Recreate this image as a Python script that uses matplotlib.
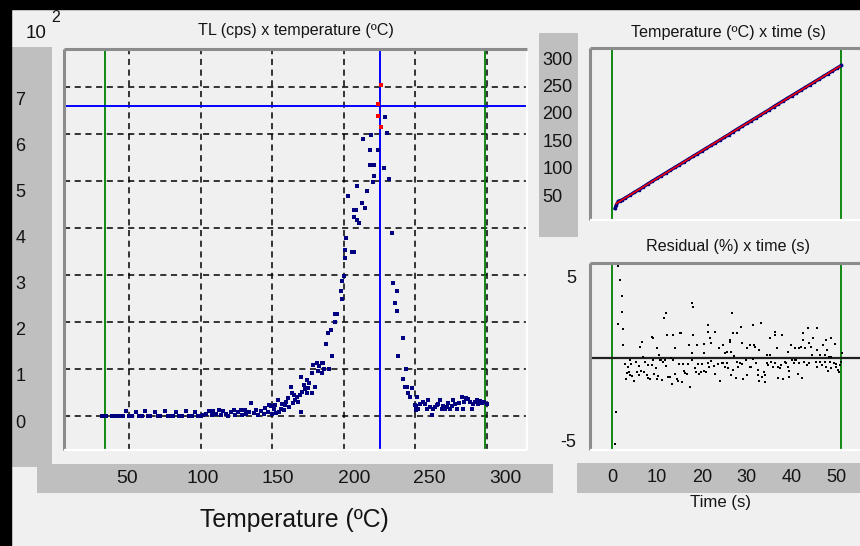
import numpy as np
import matplotlib
matplotlib.use("Agg")
import matplotlib.pyplot as plt
from matplotlib import font_manager as fm
from matplotlib.patches import Rectangle

# ---------------- data ----------------
# TL glow curve (temperature in C, intensity in units of 10^2 cps)
tl_temp = [31, 34, 38, 41, 44, 46, 48, 50, 52, 55, 57, 59, 61, 63, 65, 68, 70, 72, 75, 77,
           79, 81, 83, 85, 87, 90, 92, 94, 96, 98, 100, 102, 104, 106, 108, 109, 111, 113, 114, 116,
           118, 119, 121, 123, 124, 126, 128, 129, 131, 132, 134, 135, 137, 139, 140, 142, 144, 145, 147, 148,
           149, 150, 151, 152, 153, 154, 155, 156, 157, 158, 159, 160, 161, 162, 163, 163.6, 164.5, 165, 166, 167,
           168, 169.4, 169.9, 170, 171, 172, 173, 174.1, 174.5, 175.2, 176, 177.6, 178, 178.3, 179.8, 181, 182, 183, 184.6, 184.6,
           185.5, 186, 187.6, 188.8, 189.9, 190.9, 191.5, 193.9, 193.9, 195, 198, 198.5, 198.5, 200.1, 200.8, 200.8, 201.5, 202.7, 205.5, 207.1,
           207.1, 207.1, 208.5, 209.2, 209.4, 210.4, 212.5, 213.6, 214.8, 216, 218.1, 218.1, 219, 220.2, 221.3, 221.3, 223.7, 227.9, 229, 230,
           231.6, 233.5, 234.6, 235.8, 237, 237, 238, 241.1, 241.1, 242.7, 243.4, 243.9, 245, 246.2, 247.4, 249.7, 250.4, 250.4, 251.3, 252,
           253, 255.5, 256.7, 257.9, 259, 260, 261.4, 262.1, 263.7, 264.9, 266, 267.2, 268.4, 269.5, 270.7, 272, 273, 274.2, 275.3, 276.5,
           278, 279.3, 280.7, 282.3, 283.4, 284.3, 285.3, 286.9, 288, 289.3, 290.4, 291.5, 292.8, 293.9, 295, 296.3, 298, 299.8]
tl_counts = [0.00, 0.00, 0.00, 0.00, 0.00, 0.01, 0.10, 0.00, 0.01, 0.09, 0.00, 0.01, 0.10, 0.00, 0.01, 0.09, 0.00, 0.01, 0.10, 0.00,
             0.01, 0.00, 0.09, 0.00, 0.01, 0.10, 0.00, 0.00, 0.08, 0.00, 0.00, 0.02, 0.05, 0.11, 0.03, 0.10, 0.04, 0.12, 0.02, 0.10,
             0.04, 0.01, 0.09, 0.13, 0.03, 0.08, 0.12, 0.02, 0.13, 0.05, 0.09, 0.27, 0.06, 0.13, 0.03, 0.10, 0.05, 0.17, 0.08, 0.23,
             0.21, 0.04, 0.15, 0.23, 0.07, 0.34, 0.09, 0.16, 0.26, 0.13, 0.23, 0.30, 0.38, 0.20, 0.62, 0.49, 0.28, 0.44, 0.35, 0.41,
             0.29, 0.45, 0.84, 0.09, 0.52, 0.66, 0.58, 0.77, 0.48, 0.60, 0.70, 0.91, 0.49, 1.09, 0.62, 1.12, 0.95, 1.07, 0.92, 1.12,
             1.12, 1.00, 1.53, 1.77, 0.99, 1.84, 1.28, 2.00, 2.17, 2.17, 2.67, 2.48, 2.88, 2.98, 3.36, 3.53, 3.78, 4.68, 3.50, 3.50,
             4.38, 4.24, 4.38, 4.89, 4.17, 4.10, 4.54, 5.89, 4.43, 4.79, 5.67, 5.35, 5.99, 4.99, 5.35, 5.11, 5.67, 5.28, 6.36, 6.03,
             5.04, 3.89, 2.84, 2.40, 2.67, 2.23, 1.28, 1.67, 0.78, 0.62, 0.99, 0.62, 0.50, 0.41, 0.60, 0.23, 0.13, 0.21, 0.41, 0.14,
             0.25, 0.30, 0.26, 0.16, 0.34, 0.20, 0.02, 0.16, 0.20, 0.23, 0.25, 0.34, 0.14, 0.22, 0.16, 0.20, 0.27, 0.14, 0.22, 0.34,
             0.25, 0.16, 0.27, 0.41, 0.14, 0.30, 0.38, 0.36, 0.30, 0.16, 0.26, 0.30, 0.34, 0.26, 0.32, 0.28, 0.30, 0.26]
# flagged points near the peak (red)
peak_temp = [226.0, 224.1, 223.7, 226.0]
peak_counts = [7.04, 6.64, 6.39, 6.14]

# cursors / region limits
cursor_temp = 225.0
cursor_counts = 6.6
roi_temp = [33.0, 298.6]

# temperature vs time
temp_time = [0.7, 1.0, 1.4, 1.8, 2.2, 3, 4, 5, 6, 7, 8, 9, 10, 11, 12, 13, 14, 15, 16, 17, 18, 19, 20,
             21, 22, 23, 24, 25, 26, 27, 28, 29, 30, 31, 32, 33, 34, 35, 36, 37, 38, 39, 40, 41, 42, 43,
             44, 45, 46, 47, 48, 49, 50, 51]
temp_vals = [29, 36, 42, 43.5, 44.5, 48.5, 53.5, 58.5, 63.5, 68.5, 74, 79, 84, 89, 94, 99, 104, 109, 114,
             119, 124, 129, 134, 139, 144, 149, 154, 159, 164, 169.5, 174.5, 179.5, 184.5, 189.5, 194.5,
             199.5, 204.5, 209.5, 215, 220, 225, 230, 235, 240, 245, 250, 255, 260, 265, 270, 275, 280,
             285, 290]
roi_time = [0.0, 50.9]

# residuals (%) vs time
res_time = [0.7, 1.0, 1.4, 1.4, 1.8, 2.2, 2.2, 2.5, 2.5, 2.9, 3.1, 3.3, 3.6, 3.8, 3.9, 4.0, 4.2, 4.5, 4.9, 5.3,
            5.5, 5.9, 6.0, 6.2, 6.4, 6.6, 6.9, 7.2, 7.3, 7.7, 7.9, 8.1, 8.4, 8.8, 8.8, 9.2, 9.2, 9.4, 9.7, 9.9,
            10.1, 10.3, 10.5, 10.7, 11.0, 11.2, 11.4, 11.6, 11.8, 11.9, 12.1, 12.2, 12.5, 12.9, 13.1, 13.3, 13.6, 13.6, 14.0, 14.0,
            14.4, 14.6, 14.9, 15.1, 15.4, 15.6, 15.8, 16.1, 16.2, 16.6, 16.8, 17.1, 17.4, 17.7, 17.7, 17.9, 18.1, 18.1, 18.4, 18.6,
            18.8, 19.2, 19.4, 19.9, 20.1, 20.5, 20.5, 20.5, 20.9, 21.3, 21.3, 21.3, 21.6, 21.9, 22.0, 22.1, 22.7, 22.9, 23.0, 23.5,
            23.8, 24.0, 24.4, 24.7, 24.7, 25.1, 25.1, 25.5, 25.5, 25.9, 26.2, 26.2, 26.4, 26.4, 26.7, 26.9, 26.9, 27.2, 27.6, 27.7,
            27.7, 28.0, 28.4, 28.7, 29.0, 29.0, 29.2, 29.7, 30.1, 30.1, 30.7, 30.7, 31.0, 31.4, 31.4, 31.6, 31.9, 32.1, 32.4, 32.5,
            32.7, 32.7, 33.1, 33.3, 33.8, 34.1, 34.1, 34.5, 34.5, 34.7, 35.1, 35.1, 35.4, 35.8, 36.2, 36.2, 36.2, 36.6, 36.9, 36.9,
            37.3, 37.6, 37.7, 38.0, 38.4, 38.8, 39.2, 39.2, 39.3, 39.4, 39.8, 40.0, 40.4, 40.7, 40.7, 41.0, 41.3, 41.6, 41.6, 42.0,
            42.3, 42.5, 42.5, 42.7, 42.9, 43.3, 43.5, 43.8, 43.8, 44.2, 44.4, 44.6, 45.3, 45.5, 45.7, 45.7, 46.2, 46.2, 46.6, 46.9,
            47.3, 47.3, 47.7, 47.7, 47.8, 48.1, 48.2, 48.4, 48.7, 48.8, 48.8, 49.4, 49.6, 49.8, 49.9, 50.3, 50.4, 50.7, 50.9, 51.2]
res_vals = [-5.2, -3.3, 5.65, 2.1, 4.8, 3.8, 2.8, 1.8, 0.8, -0.37, -1.26, -0.91, -0.51, -0.85, -0.10, -1.02, -0.37, -1.06, -1.36, -0.24,
            -0.85, -0.45, -1.02, 0.67, -0.77, 0.98, 0.10, -0.85, -0.24, -1.02, -0.41, -1.22, -1.26, 1.32, -0.41, 1.22, -0.10, -0.98, -0.61, -1.26,
            0.61, -1.06, 0.20, -0.10, -0.10, -1.32, -0.24, 2.44, -0.10, 2.74, -0.45, 1.42, -1.16, -1.16, 0.04, -1.57, 1.42, -0.10, 0.61, -0.98,
            -1.26, -1.36, -0.37, 1.52, 1.52, -1.46, -0.37, -0.77, -0.91, -0.98, -0.37, 0.81, -1.77, 3.35, 0.30, -0.10, 3.15, 1.42, -0.57, -0.85,
            0.81, -0.37, -0.98, -0.85, -0.37, 0.30, 0.85, -0.77, -0.85, 2.03, 1.63, -0.30, -0.50, 1.22, 0.91, -0.16, -0.47, -0.98, 1.63, -0.37,
            0.61, -1.36, -0.30, 0.81, -0.30, -0.51, 0.30, 0.40, -0.30, -0.61, 1.00, 1.10, 0.40, -1.02, 2.74, 1.52, -0.71, 0.16, -1.18, 1.52,
            -0.20, -0.51, -0.30, 1.93, 0.91, -0.37, -1.26, -0.10, 0.61, -1.02, 0.81, -0.51, -0.51, 2.03, -0.04, 0.81, 0.71, -0.30, -0.71, -1.02,
            0.51, -1.36, 2.13, -1.12, -0.85, -1.02, -1.46, 0.20, -0.30, -0.41, 1.22, 0.20, -0.24, -0.51, 1.63, 1.42, -0.30, 0.61, -0.51, -1.18,
            -0.61, -0.41, 1.42, -1.26, -0.20, -0.30, 0.40, -0.51, -0.77, -1.12, 0.81, -0.10, -0.30, 0.61, -0.10, -0.10, -0.98, 0.65, -0.30, 0.71,
            -1.18, 1.12, 1.52, -0.24, 0.61, -0.41, 1.83, 0.91, -0.30, 0.71, 0.20, 1.22, -0.24, 0.51, 1.83, -0.51, 0.20, -0.20, -0.41, 0.81,
            0.20, -0.20, 1.12, -0.51, 0.51, -0.77, 0.10, -0.24, 0.10, 1.22, -0.61, -0.30, 0.85, -0.37, -0.51, -0.71, -0.85, -0.41, -0.20, 0.30]

main_xticks = [50, 100, 150, 200, 250, 300]
main_yticks = [0, 1, 2, 3, 4, 5, 6, 7]
temp_ticks = [50, 100, 150, 200, 250, 300]
time_ticks = [0, 10, 20, 30, 40, 50]
res_ticks = [-5, 5]

# ---------------- style ----------------
W, H = 860, 546
BG = "#F0F0F0"
BAR = "#BFBFBF"
TXT = "#141414"
names = {f.name for f in fm.fontManager.ttflist}
if "Liberation Sans Narrow" in names:
    FONT = ["Liberation Sans Narrow"]
    kt, kk = 1.0, 1.0
else:
    FONT = ["Liberation Sans"]
    kt, kk = 0.83, 0.93
REG = ["Liberation Sans"]

fig = plt.figure(figsize=(W / 100, H / 100), dpi=100, facecolor=BG)


def ax_px(x0, y0, x1, y1, **kw):
    return fig.add_axes([x0 / W, 1 - y1 / H, (x1 - x0) / W, (y1 - y0) / H], **kw)


def sunken(ax, right=True, bottom=True):
    for s in ("left", "top"):
        ax.spines[s].set_color("#8c8c8c")
        ax.spines[s].set_linewidth(2.2)
    ax.spines["right"].set_color("white")
    ax.spines["right"].set_linewidth(1.6)
    ax.spines["right"].set_visible(right)
    ax.spines["bottom"].set_color("white")
    ax.spines["bottom"].set_linewidth(1.6)
    ax.spines["bottom"].set_visible(bottom)
    for s in ax.spines.values():
        s.set_capstyle("butt")


def bar(x0, y0, x1, y1):
    b = ax_px(x0, y0, x1, y1, facecolor=BAR)
    for s in b.spines.values():
        s.set_visible(False)
    b.set_xticks([])
    b.set_yticks([])
    return b


# black window edges
fig.patches.append(Rectangle((0, 0), 11 / W, 1, transform=fig.transFigure, color="black", zorder=0))
fig.patches.append(Rectangle((0, 1 - 9 / H), 1, 9 / H, transform=fig.transFigure, color="black", zorder=0))

# ---------------- main TL plot ----------------
ax = ax_px(64, 49, 527, 450, facecolor=BG)
ax.set_xlim(4.6, 328.0)
ax.set_ylim(-0.723, 7.81)
ax.set_xticks(main_xticks)
ax.set_yticks(main_yticks)
ax.tick_params(length=0, labelbottom=False, labelleft=False)
ax.grid(True, color="black", linestyle=(0, (4, 3)), linewidth=1.1)
ax.set_axisbelow(True)
sunken(ax)
for t in roi_temp:
    ax.axvline(t, color="#008000", lw=1.3, zorder=2)
ax.axvline(cursor_temp, color="#0000FF", lw=1.4, zorder=2)
ax.axhline(cursor_counts, color="#0000FF", lw=1.4, zorder=2)
ax.scatter(tl_temp, tl_counts, s=6, marker="s", color="#000080", linewidths=0, zorder=3)
ax.scatter(peak_temp, peak_counts, s=6, marker="s", color="#FF0000", linewidths=0, zorder=4)

# y label bar
yb = bar(12, 47, 52, 467)
yb.set_ylim(-0.954, 8.16)
yb.set_xlim(0, 1)
for v in main_yticks:
    yb.text(0.08, v, str(v), ha="left", va="center", fontsize=14 * kk, family=FONT, color=TXT)

# x label bar
xb = bar(37, 464, 553, 493)
xb.set_xlim(-9.5, 331.7)
xb.set_ylim(0, 1)
for v in main_xticks:
    xb.text(v, 0.5, str(v), ha="center", va="center", fontsize=15 * kk, family=FONT, color=TXT)

fig.text(26 / W, 1 - 33 / H, "10", ha="left", va="center", fontsize=13.5, family=REG, color=TXT)
fig.text(51 / W, 1 - 17 / H, "2", ha="left", va="center", fontsize=11.5, family=REG, color=TXT)
fig.text(296 / W, 1 - 31 / H, "TL (cps) x temperature (ºC)", ha="center", va="center",
         fontsize=14 * kt, family=FONT, color=TXT)
fig.text(294 / W, 1 - 520 / H, "Temperature (ºC)", ha="center", va="center",
         fontsize=21.5 * kt, family=FONT, color=TXT)

# ---------------- temperature vs time ----------------
at = ax_px(590, 48, 880, 220, facecolor=BG)
at.set_xlim(-4.89, 59.6)
at.set_ylim(8.0, 321.9)
at.set_xticks([])
at.set_yticks([])
sunken(at, right=False)
for t in roi_time:
    at.axvline(t, color="#008000", lw=1.3)
at.plot(temp_time, temp_vals, color="#000080", lw=2.4, marker="s", ms=1.6, zorder=3)
fit_idx = [i for i, t in enumerate(temp_time) if t >= 2.2]
coef = np.polyfit([temp_time[i] for i in fit_idx], [temp_vals[i] for i in fit_idx], 1)
fx = np.array([0.9, 50.7])
at.plot(fx, np.polyval(coef, fx), color="#FF0000", lw=1.1, zorder=4)

tb = bar(539, 33, 578, 237)
tb.set_ylim(-23, 349.3)
tb.set_xlim(0, 1)
for v in temp_ticks:
    tb.text(0.09, v, str(v), ha="left", va="center", fontsize=14 * kk, family=FONT, color=TXT)
fig.text(728 / W, 1 - 32 / H, "Temperature (ºC) x time (s)", ha="center", va="center",
         fontsize=14 * kt, family=FONT, color=TXT)

# ---------------- residuals ----------------
ar = ax_px(590, 263, 880, 450, facecolor=BG)
ar.set_xlim(-4.89, 59.6)
ar.set_ylim(-5.59, 5.81)
ar.set_xticks([])
ar.set_yticks(res_ticks)
ar.set_yticklabels([str(v) for v in res_ticks], fontsize=14 * kk, family=FONT, color=TXT)
ar.tick_params(axis="y", length=0, pad=10)
sunken(ar, right=False)
for t in roi_time:
    ar.axvline(t, color="#008000", lw=1.3)
ar.axhline(0, color="#202020", lw=1.6, zorder=2)
ar.scatter(res_time, res_vals, s=2.4, marker="s", color="black", linewidths=0, zorder=3)
fig.text(728 / W, 1 - 247 / H, "Residual (%) x time (s)", ha="center", va="center",
         fontsize=14 * kt, family=FONT, color=TXT)

rb = bar(577, 463, 880, 493)
rb.set_xlim(-7.78, 59.6)
rb.set_ylim(0, 1)
for v in time_ticks:
    rb.text(v, 0.5, str(v), ha="center", va="center", fontsize=14 * kk, family=FONT, color=TXT)
fig.text(721 / W, 1 - 503 / H, "Time (s)", ha="center", va="center",
         fontsize=14.5 * kt, family=FONT, color=TXT)

fig.savefig("out.png", dpi=100, facecolor=BG)
